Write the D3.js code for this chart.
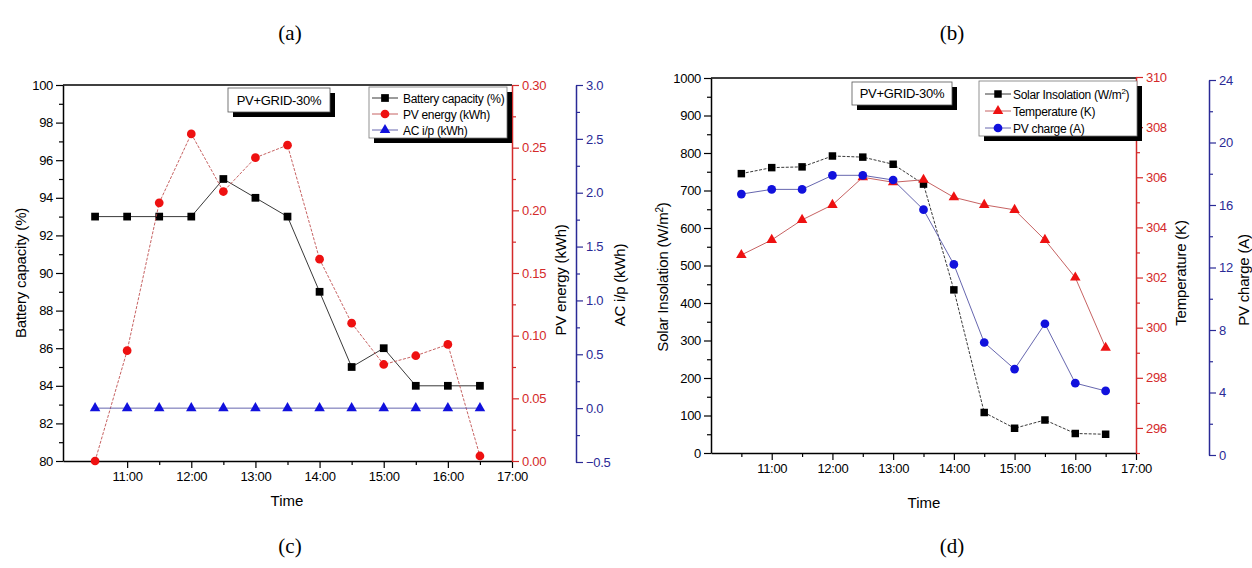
<!DOCTYPE html>
<html><head><meta charset="utf-8">
<script src="https://cdn.jsdelivr.net/npm/d3@7"></script>
<style>body{margin:0;background:#fff}svg{display:block}text{font-family:"Liberation Sans",Arial,sans-serif}</style>
</head><body>
<svg id="c" width="1252" height="568"></svg>
<script>
// ---------- data ----------
const times = ["10:30","11:00","11:30","12:00","12:30","13:00","13:30","14:00","14:30","15:00","15:30","16:00","16:30"];
const xTickLabels = ["11:00","12:00","13:00","14:00","15:00","16:00","17:00"];
// panel (c)
const batteryCapacity = [93,93,93,93,95,94,93,89,85,86,84,84,84];
const pvEnergy = [0.000,0.088,0.206,0.261,0.215,0.242,0.252,0.161,0.110,0.077,0.084,0.093,0.004];
const acInput = [0,0,0,0,0,0,0,0,0,0,0,0,0];
// panel (d)
const solarInsolation = [745,761,763,792,789,770,717,435,108,66,88,52,50];
const temperature = [302.9,303.5,304.3,304.9,306.0,305.8,305.9,305.2,304.9,304.7,303.5,302.0,299.2];
const pvCharge = [16.7,17.0,17.0,17.9,17.9,17.6,15.7,12.2,7.2,5.5,8.4,4.6,4.1];
const panelLabels = ["(a)","(b)","(c)","(d)"];
const boxLabel = "PV+GRID-30%";

const hour = s => { const p = s.split(":"); return +p[0] + (+p[1]) / 60; };
const svg = d3.select("#c");

const RED = "#d42a2a", BLUE = "#2a2a96", MRED = "#ee1111", MBLUE = "#1111dd";

function yAxis(g, scale, x, side, majors, minors, fmt, color) {
  const ax = (side === "left" ? d3.axisLeft(scale) : d3.axisRight(scale));
  const gg = g.append("g").attr("transform", `translate(${x},0)`);
  gg.call(ax.tickValues(minors).tickSize(4).tickFormat(""));
  gg.select(".domain").remove();
  const gm = g.append("g").attr("transform", `translate(${x},0)`)
    .call(ax.tickValues(majors).tickSize(7).tickPadding(3).tickFormat(fmt).tickSizeOuter(0));
  [gg, gm].forEach(s => s.selectAll("line,path").attr("stroke", color).attr("stroke-width", 1.2));
  gm.selectAll("text").attr("fill", color).style("font-size", "13px").style("letter-spacing", "-0.3px");
  gm.select(".domain").attr("stroke-width", 1.5);
}

function panel(cfg) {
  const g = svg.append("g");
  const x = d3.scaleLinear().domain([10, 17]).range([cfg.x0, cfg.x1]);
  const ticksMaj = xTickLabels.map(hour);
  const ticksMin = d3.range(10.5, 17, 1);
  // frame
  g.append("line").attr("x1", cfg.x0).attr("x2", cfg.x1).attr("y1", cfg.yTop).attr("y2", cfg.yTop)
    .attr("stroke", "#000").attr("stroke-width", 1.5);
  // x axis
  const xa = g.append("g").attr("transform", `translate(0,${cfg.yBot})`);
  xa.call(d3.axisBottom(x).tickValues(ticksMin).tickSize(4).tickFormat(""));
  xa.select(".domain").remove();
  const xm = g.append("g").attr("transform", `translate(0,${cfg.yBot})`)
    .call(d3.axisBottom(x).tickValues(ticksMaj).tickSize(7).tickPadding(4)
      .tickFormat((d, i) => xTickLabels[i]).tickSizeOuter(0));
  xm.selectAll("text").style("font-size", "13px").style("letter-spacing", "-0.3px").attr("fill", "#000");
  xm.select(".domain").attr("stroke-width", 1.5);
  xa.selectAll("line").attr("stroke-width", 1.2);
  xm.selectAll("line").attr("stroke-width", 1.2);
  g.append("text").attr("x", cfg.timeX).attr("y", cfg.timeY).attr("text-anchor", "middle")
    .style("font-size", "15px").text("Time");

  cfg.axes.forEach(a => {
    yAxis(g, a.scale, a.x, a.side, a.majors, a.minors, a.fmt, a.color);
    g.append("text").attr("transform", `translate(${a.titleX},${a.titleY}) rotate(-90)`)
      .attr("text-anchor", "middle").style("font-size", "15px").style("letter-spacing", "-0.2px").attr("fill", "#000")
      .html(a.title);
  });

  // series
  cfg.series.forEach(s => {
    const line = d3.line().x((d, i) => x(hour(times[i]))).y(d => s.scale(d));
    g.append("path").datum(s.values).attr("d", line).attr("fill", "none")
      .attr("stroke", s.lineColor).attr("stroke-width", 0.9)
      .attr("stroke-dasharray", s.dash || null);
    g.append("g").selectAll("path").data(s.values).join("path")
      .attr("transform", (d, i) => `translate(${x(hour(times[i]))},${s.scale(d)})`)
      .attr("d", d3.symbol().type(s.symbol).size(s.size)())
      .attr("fill", s.fill);
  });

  // text box
  const b = cfg.box;
  g.append("rect").attr("x", b.x + 5).attr("y", b.y + 5).attr("width", b.w).attr("height", b.h).attr("fill", "#000");
  g.append("rect").attr("x", b.x).attr("y", b.y).attr("width", b.w).attr("height", b.h)
    .attr("fill", "#fff").attr("stroke", "#555").attr("stroke-width", 0.8);
  g.append("text").attr("x", b.x + b.w / 2).attr("y", b.y + b.h / 2 + 4.5).attr("text-anchor", "middle")
    .style("font-size", "13px").style("letter-spacing", "-0.3px").text(boxLabel);

  // legend
  const L = cfg.legend;
  g.append("rect").attr("x", L.x + 5).attr("y", L.y + 5).attr("width", L.w).attr("height", L.h).attr("fill", "#000");
  g.append("rect").attr("x", L.x).attr("y", L.y).attr("width", L.w).attr("height", L.h)
    .attr("fill", "#fff").attr("stroke", "#777").attr("stroke-width", 0.8);
  cfg.series.forEach((s, i) => {
    const yy = L.rows[i];
    g.append("line").attr("x1", L.lx0).attr("x2", L.lx1).attr("y1", yy).attr("y2", yy)
      .attr("stroke", s.lineColor).attr("stroke-width", 0.9);
    g.append("path").attr("transform", `translate(${(L.lx0 + L.lx1) / 2},${yy})`)
      .attr("d", d3.symbol().type(s.symbol).size(s.size)()).attr("fill", s.fill);
    g.append("text").attr("x", L.tx).attr("y", yy + 4.5).style("font-size", "12px")
      .style("letter-spacing", "-0.3px").html(s.name);
  });
}

// ----- panel (c) -----
const yBat = d3.scaleLinear().domain([80, 100]).range([461, 85]);
const yPV = d3.scaleLinear().domain([0, 0.30]).range([461, 85]);
const yAC = d3.scaleLinear().domain([-0.5, 3.0]).range([462, 85]);
panel({
  x0: 63, x1: 512, yTop: 85, yBot: 461, timeX: 287, timeY: 506,
  axes: [
    {scale: yBat, x: 63, side: "left", majors: d3.range(80, 101, 2), minors: d3.range(81, 100, 2),
     fmt: d3.format("d"), color: "#000", title: "Battery capacity (%)", titleX: 26, titleY: 273},
    {scale: yPV, x: 512, side: "right", majors: d3.range(0, 0.301, 0.05), minors: d3.range(0.025, 0.3, 0.05),
     fmt: d3.format(".2f"), color: RED, title: "PV energy (kWh)", titleX: 566, titleY: 280},
    {scale: yAC, x: 576, side: "right", majors: d3.range(-0.5, 3.01, 0.5), minors: d3.range(-0.25, 3.0, 0.5),
     fmt: d3.format(".1f"), color: BLUE, title: "AC i/p (kWh)", titleX: 625, titleY: 285}
  ],
  series: [
    {name: "Battery capacity (%)", values: batteryCapacity, scale: yBat, symbol: d3.symbolSquare, size: 60, fill: "#000", lineColor: "#222"},
    {name: "PV energy (kWh)", values: pvEnergy, scale: yPV, symbol: d3.symbolCircle, size: 60, fill: MRED, lineColor: "#c05050", dash: "3,1.5"},
    {name: "AC i/p (kWh)", values: acInput, scale: yAC, symbol: d3.symbolTriangle, size: 48, fill: MBLUE, lineColor: "#5555a5"}
  ],
  box: {x: 228, y: 88, w: 102, h: 24},
  legend: {x: 369, y: 87, w: 138, h: 51, rows: [98, 114, 130], lx0: 372, lx1: 398, tx: 403}
});

// ----- panel (d) -----
const ySol = d3.scaleLinear().domain([0, 1000]).range([453, 78]);
const yTemp = d3.scaleLinear().domain([295, 310]).range([453, 77]);
const yChg = d3.scaleLinear().domain([0, 24]).range([455, 80]);
panel({
  x0: 711, x1: 1136, yTop: 78, yBot: 453, timeX: 924, timeY: 508,
  axes: [
    {scale: ySol, x: 711, side: "left", majors: d3.range(0, 1001, 100), minors: d3.range(50, 1000, 100),
     fmt: d3.format("d"), color: "#000", title: "Solar Insolation (W/m<tspan dy='-5' font-size='10px'>2</tspan><tspan dy='5'>)</tspan>", titleX: 668, titleY: 277},
    {scale: yTemp, x: 1136, side: "right", majors: d3.range(296, 311, 2), minors: d3.range(295, 310, 2),
     fmt: d3.format("d"), color: RED, title: "Temperature (K)", titleX: 1186, titleY: 273},
    {scale: yChg, x: 1209, side: "right", majors: d3.range(0, 25, 4), minors: d3.range(2, 24, 4),
     fmt: d3.format("d"), color: BLUE, title: "PV charge (A)", titleX: 1249, titleY: 280}
  ],
  series: [
    {name: "Solar Insolation (W/m<tspan dy='-5' font-size='8px'>2</tspan><tspan dy='5'>)</tspan>", values: solarInsolation, scale: ySol, symbol: d3.symbolSquare, size: 56, fill: "#000", lineColor: "#222", dash: "3,1.5"},
    {name: "Temperature (K)", values: temperature, scale: yTemp, symbol: d3.symbolTriangle, size: 48, fill: MRED, lineColor: "#c05050"},
    {name: "PV charge (A)", values: pvCharge, scale: yChg, symbol: d3.symbolCircle, size: 60, fill: MBLUE, lineColor: "#5555a5"}
  ],
  box: {x: 852, y: 82, w: 100, h: 23},
  legend: {x: 979, y: 81, w: 158, h: 55, rows: [94, 111, 128], lx0: 985, lx1: 1011, tx: 1013}
});

// panel letters
const letterPos = [[290, 33], [952, 33], [290, 546], [952, 546]];
svg.selectAll("text.lbl").data(panelLabels).join("text").attr("class", "lbl")
  .attr("x", (d, i) => letterPos[i][0]).attr("y", (d, i) => letterPos[i][1] + 7)
  .attr("text-anchor", "middle").style("font-family", "'Liberation Serif',serif").style("font-size", "21px")
  .text(d => d);
</script>
</body></html>
